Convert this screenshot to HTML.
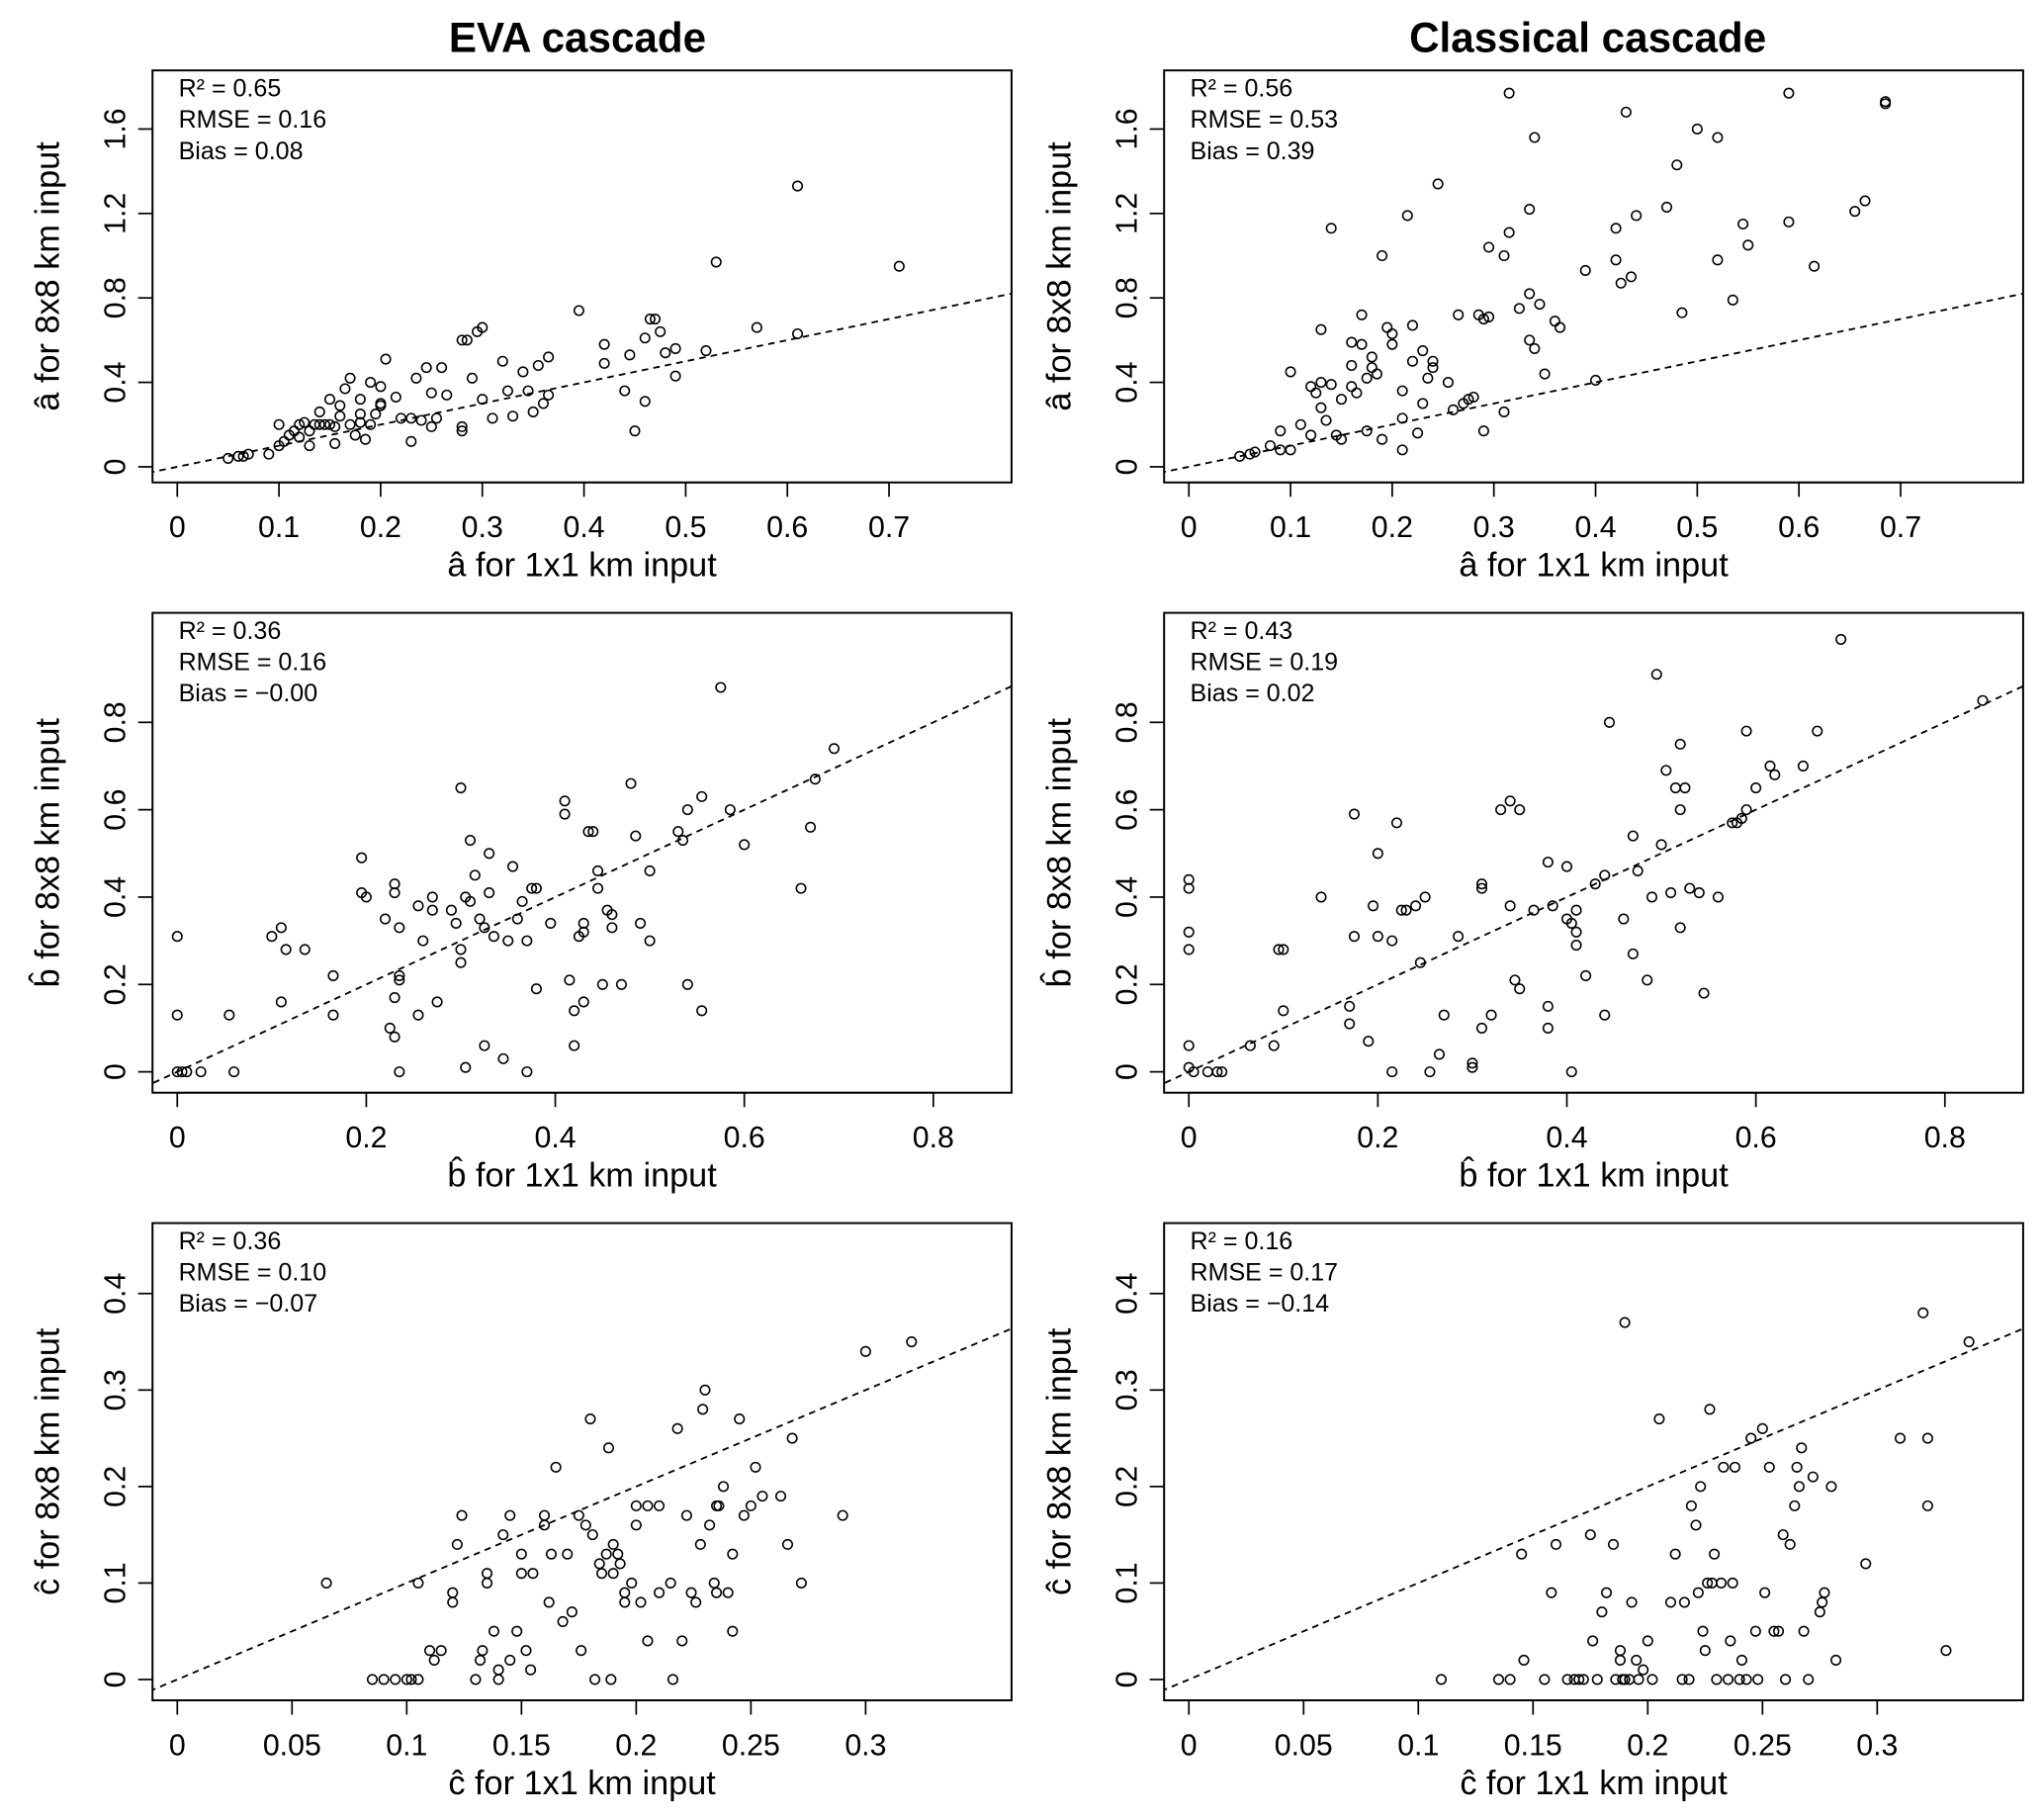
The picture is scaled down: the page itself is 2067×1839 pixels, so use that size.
<!DOCTYPE html>
<html><head><meta charset="utf-8"><style>
html,body{margin:0;padding:0;background:#fff}
svg{display:block}
text{font-family:"Liberation Sans",sans-serif;fill:#000}
</style></head><body>
<svg id="fig" width="2067" height="1839" viewBox="0 0 1568 1395" preserveAspectRatio="none" xmlns="http://www.w3.org/2000/svg">
<text x="443" y="40" text-anchor="middle" font-size="32" font-weight="bold">EVA cascade</text>
<text x="1218" y="40" text-anchor="middle" font-size="32" font-weight="bold">Classical cascade</text>
</svg>
<script>
// ---- data ----
const evaA_x=[0.05,0.06,0.065,0.07,0.09,0.1,0.1,0.105,0.11,0.115,0.12,0.12,0.125,0.13,0.13,0.135,0.14,0.14,0.145,0.15,0.15,0.155,0.155,0.16,0.16,0.165,0.17,0.17,0.175,0.18,0.18,0.18,0.185,0.19,0.19,0.195,0.2,0.2,0.2,0.205,0.215,0.22,0.23,0.23,0.235,0.24,0.245,0.25,0.25,0.255,0.26,0.265,0.28,0.28,0.28,0.285,0.29,0.295,0.3,0.3,0.31,0.32,0.325,0.33,0.34,0.345,0.35,0.355,0.36,0.365,0.365,0.395,0.42,0.42,0.44,0.445,0.45,0.46,0.46,0.465,0.47,0.475,0.48,0.49,0.49,0.52,0.53,0.57,0.61,0.61,0.71];
const evaA_y=[0.04,0.05,0.05,0.06,0.06,0.1,0.2,0.12,0.15,0.17,0.2,0.14,0.21,0.1,0.17,0.2,0.26,0.2,0.2,0.2,0.32,0.11,0.19,0.29,0.24,0.37,0.42,0.2,0.15,0.21,0.32,0.25,0.13,0.2,0.4,0.25,0.38,0.29,0.3,0.51,0.33,0.23,0.23,0.12,0.42,0.22,0.47,0.19,0.35,0.23,0.47,0.34,0.19,0.17,0.6,0.6,0.42,0.64,0.66,0.32,0.23,0.5,0.36,0.24,0.45,0.36,0.26,0.48,0.3,0.52,0.34,0.74,0.58,0.49,0.36,0.53,0.17,0.31,0.61,0.7,0.7,0.64,0.54,0.43,0.56,0.55,0.97,0.66,0.63,1.33,0.95];
const clA_x=[0.05,0.06,0.065,0.08,0.09,0.09,0.1,0.1,0.11,0.12,0.12,0.125,0.13,0.13,0.13,0.135,0.14,0.14,0.145,0.15,0.15,0.16,0.16,0.16,0.165,0.17,0.17,0.175,0.175,0.18,0.18,0.185,0.19,0.19,0.195,0.2,0.2,0.21,0.21,0.21,0.215,0.22,0.22,0.225,0.23,0.23,0.235,0.24,0.24,0.245,0.255,0.26,0.265,0.27,0.275,0.28,0.285,0.29,0.29,0.295,0.295,0.31,0.31,0.315,0.315,0.325,0.335,0.335,0.335,0.34,0.34,0.345,0.35,0.36,0.365,0.39,0.4,0.42,0.42,0.425,0.43,0.435,0.44,0.47,0.48,0.485,0.5,0.52,0.52,0.535,0.545,0.55,0.59,0.59,0.615,0.655,0.665,0.685,0.685];
const clA_y=[0.05,0.06,0.07,0.1,0.08,0.17,0.08,0.45,0.2,0.15,0.38,0.35,0.28,0.65,0.4,0.22,0.39,1.13,0.15,0.32,0.13,0.59,0.48,0.38,0.35,0.58,0.72,0.17,0.42,0.52,0.47,0.44,0.13,1.0,0.66,0.58,0.63,0.36,0.23,0.08,1.19,0.5,0.67,0.16,0.55,0.3,0.42,0.5,0.47,1.34,0.4,0.27,0.72,0.3,0.32,0.33,0.72,0.7,0.17,0.71,1.04,1.0,0.26,1.11,1.77,0.75,1.22,0.82,0.6,0.56,1.56,0.77,0.44,0.69,0.66,0.93,0.41,1.13,0.98,0.87,1.68,0.9,1.19,1.23,1.43,0.73,1.6,1.56,0.98,0.79,1.15,1.05,1.16,1.77,0.95,1.21,1.26,1.73,1.72];
const evaB_x=[0,0,0,0.005,0.01,0.025,0.055,0.06,0.1,0.11,0.11,0.115,0.135,0.165,0.165,0.195,0.195,0.2,0.22,0.225,0.23,0.23,0.23,0.23,0.235,0.235,0.235,0.235,0.255,0.255,0.26,0.27,0.27,0.275,0.29,0.295,0.3,0.3,0.3,0.305,0.305,0.31,0.31,0.315,0.32,0.325,0.325,0.33,0.33,0.335,0.345,0.35,0.355,0.36,0.365,0.37,0.37,0.375,0.38,0.38,0.395,0.41,0.41,0.415,0.42,0.42,0.425,0.43,0.43,0.43,0.435,0.44,0.445,0.445,0.45,0.455,0.46,0.46,0.47,0.48,0.485,0.49,0.5,0.5,0.53,0.535,0.54,0.54,0.555,0.555,0.575,0.585,0.6,0.66,0.67,0.675,0.695];
const evaB_y=[0.31,0.13,0,0,0,0,0.13,0,0.31,0.33,0.16,0.28,0.28,0.13,0.22,0.49,0.41,0.4,0.35,0.1,0.08,0.17,0.43,0.41,0.33,0.21,0.22,0,0.38,0.13,0.3,0.4,0.37,0.16,0.37,0.34,0.65,0.25,0.28,0.4,0.01,0.53,0.39,0.45,0.35,0.33,0.06,0.5,0.41,0.31,0.03,0.3,0.47,0.35,0.39,0.3,0,0.42,0.42,0.19,0.34,0.62,0.59,0.21,0.14,0.06,0.31,0.32,0.34,0.16,0.55,0.55,0.46,0.42,0.2,0.37,0.33,0.36,0.2,0.66,0.54,0.34,0.46,0.3,0.55,0.53,0.2,0.6,0.63,0.14,0.88,0.6,0.52,0.42,0.56,0.67,0.74];
const clB_x=[0,0,0,0,0,0,0.005,0.02,0.03,0.035,0.065,0.09,0.095,0.1,0.1,0.14,0.17,0.17,0.175,0.175,0.19,0.195,0.2,0.2,0.215,0.22,0.215,0.225,0.23,0.24,0.245,0.25,0.255,0.265,0.27,0.285,0.3,0.3,0.31,0.31,0.31,0.32,0.33,0.34,0.34,0.345,0.35,0.35,0.365,0.38,0.38,0.38,0.385,0.4,0.4,0.405,0.405,0.41,0.41,0.41,0.42,0.43,0.44,0.44,0.445,0.46,0.47,0.47,0.475,0.485,0.49,0.495,0.5,0.505,0.51,0.515,0.52,0.52,0.52,0.525,0.53,0.54,0.545,0.56,0.575,0.58,0.585,0.59,0.59,0.6,0.615,0.62,0.65,0.665,0.69,0.84];
const clB_y=[0.44,0.42,0.32,0.28,0.06,0.01,0,0,0,0,0.06,0.06,0.28,0.28,0.14,0.4,0.15,0.11,0.59,0.31,0.07,0.38,0.5,0.31,0.3,0.57,0,0.37,0.37,0.38,0.25,0.4,0,0.04,0.13,0.31,0.02,0.01,0.42,0.43,0.1,0.13,0.6,0.62,0.38,0.21,0.19,0.6,0.37,0.48,0.15,0.1,0.38,0.47,0.35,0.34,0,0.37,0.32,0.29,0.22,0.43,0.45,0.13,0.8,0.35,0.54,0.27,0.46,0.21,0.4,0.91,0.52,0.69,0.41,0.65,0.6,0.33,0.75,0.65,0.42,0.41,0.18,0.4,0.57,0.57,0.58,0.6,0.78,0.65,0.7,0.68,0.7,0.78,0.99,0.85];
const evaC_x=[0.065,0.085,0.09,0.095,0.1,0.102,0.105,0.105,0.11,0.112,0.115,0.12,0.12,0.122,0.124,0.13,0.132,0.133,0.135,0.135,0.138,0.14,0.14,0.142,0.145,0.145,0.148,0.15,0.15,0.152,0.154,0.155,0.16,0.16,0.162,0.163,0.165,0.168,0.17,0.172,0.175,0.176,0.178,0.18,0.181,0.182,0.184,0.185,0.187,0.188,0.189,0.19,0.19,0.192,0.193,0.195,0.195,0.198,0.2,0.2,0.202,0.205,0.205,0.21,0.21,0.215,0.216,0.218,0.22,0.222,0.224,0.226,0.228,0.229,0.23,0.232,0.234,0.235,0.235,0.236,0.238,0.24,0.242,0.242,0.245,0.247,0.25,0.252,0.255,0.263,0.266,0.268,0.272,0.29,0.3,0.32];
const evaC_y=[0.1,0,0,0,0,0,0,0.1,0.03,0.02,0.03,0.09,0.08,0.14,0.17,0,0.02,0.03,0.11,0.1,0.05,0.01,0,0.15,0.17,0.02,0.05,0.13,0.11,0.03,0.01,0.11,0.17,0.16,0.08,0.13,0.22,0.06,0.13,0.07,0.17,0.03,0.16,0.27,0.15,0,0.12,0.11,0.13,0.24,0,0.14,0.11,0.13,0.12,0.09,0.08,0.1,0.18,0.16,0.08,0.04,0.18,0.09,0.18,0.1,0,0.26,0.04,0.17,0.09,0.08,0.14,0.28,0.3,0.16,0.1,0.09,0.18,0.18,0.2,0.09,0.13,0.05,0.27,0.17,0.18,0.22,0.19,0.19,0.14,0.25,0.1,0.17,0.34,0.35];
const clC_x=[0.11,0.135,0.14,0.145,0.146,0.155,0.158,0.16,0.165,0.168,0.17,0.172,0.175,0.176,0.178,0.18,0.182,0.185,0.186,0.188,0.188,0.189,0.19,0.19,0.192,0.193,0.195,0.196,0.198,0.2,0.202,0.205,0.21,0.212,0.215,0.216,0.218,0.219,0.221,0.222,0.223,0.224,0.225,0.226,0.227,0.228,0.229,0.23,0.232,0.233,0.235,0.236,0.237,0.238,0.24,0.241,0.243,0.245,0.247,0.248,0.25,0.251,0.253,0.255,0.257,0.259,0.26,0.262,0.264,0.265,0.266,0.267,0.268,0.27,0.272,0.275,0.276,0.277,0.28,0.282,0.295,0.31,0.32,0.322,0.322,0.33,0.34];
const clC_y=[0,0,0,0.13,0.02,0,0.09,0.14,0,0,0,0,0.15,0.04,0,0.07,0.09,0.14,0,0.02,0.03,0,0,0.37,0,0.08,0.02,0,0.01,0.04,0,0.27,0.08,0.13,0,0.08,0,0.18,0.16,0.09,0.2,0.05,0.03,0.1,0.28,0.1,0.13,0,0.1,0.22,0,0.04,0.1,0.22,0,0.02,0,0.25,0.05,0,0.26,0.09,0.22,0.05,0.05,0.15,0,0.14,0.18,0.22,0.2,0.24,0.05,0,0.21,0.07,0.08,0.09,0.2,0.02,0.12,0.25,0.38,0.25,0.18,0.03,0.35];
const ticksA_x=[0,0.1,0.2,0.3,0.4,0.5,0.6,0.7];
const ticksA_y=[0,0.4,0.8,1.2,1.6];
const ticksB_x=[0,0.2,0.4,0.6,0.8];
const ticksB_y=[0,0.2,0.4,0.6,0.8];
const ticksC_x=[0,0.05,0.1,0.15,0.2,0.25,0.3];
const ticksC_y=[0,0.1,0.2,0.3,0.4];

const NS="http://www.w3.org/2000/svg";
const svg=document.getElementById('fig');
function mk(tag,attrs,parent){const e=document.createElementNS(NS,tag);for(const k in attrs)e.setAttribute(k,attrs[k]);(parent||svg).appendChild(e);return e;}

const rows=[{top:54,bot:370,xd:[-0.02436,0.8205],yd:[-0.0741,1.8777],tx:ticksA_x,ty:ticksA_y,v:'â',key:'a'},
 {top:470,bot:838,xd:[-0.0262,0.8828],yd:[-0.0478,1.0507],tx:ticksB_x,ty:ticksB_y,v:'b̂',key:'b'},
 {top:938,bot:1304,xd:[-0.0108,0.3636],yd:[-0.0216,0.473],tx:ticksC_x,ty:ticksC_y,v:'ĉ',key:'c'}];
const cols=[{l:117,r:776,key:'eva'},{l:893,r:1552,key:'classical'}];
const data={eva_a:[evaA_x,evaA_y],classical_a:[clA_x,clA_y],eva_b:[evaB_x,evaB_y],classical_b:[clB_x,clB_y],eva_c:[evaC_x,evaC_y],classical_c:[clC_x,clC_y]};
const stats={eva_a:['0.65','0.16','0.08'],classical_a:['0.56','0.53','0.39'],eva_b:['0.36','0.16','\u22120.00'],classical_b:['0.43','0.19','0.02'],eva_c:['0.36','0.10','\u22120.07'],classical_c:['0.16','0.17','\u22120.14']};
function fmt(v){return v===0?'0':String(+v.toFixed(2));}

rows.forEach((R,ri)=>{cols.forEach((C,ci)=>{
  const id=C.key+'_'+R.key;
  const g=mk('g',{});
  
  
  const sx=v=>C.l+(v-R.xd[0])/(R.xd[1]-R.xd[0])*(C.r-C.l);
  const sy=v=>R.bot-(v-R.yd[0])/(R.yd[1]-R.yd[0])*(R.bot-R.top);
  const cp=mk('clipPath',{id:'cp'+ri+ci},g);
  mk('rect',{x:C.l,y:R.top,width:C.r-C.l,height:R.bot-R.top},cp);
  // 1:1 line
  const lo=Math.min(R.xd[0],R.yd[0]),hi=Math.max(R.xd[1],R.yd[1]);
  const ln=mk('line',{x1:sx(lo),y1:sy(lo),x2:sx(hi),y2:sy(hi),stroke:'#000','stroke-width':1.4,'stroke-dasharray':'5,4','clip-path':'url(#cp'+ri+ci+')'},g);
  
  
  // points
  const [xs,ys]=data[id];
  xs.forEach((x,i)=>{
    const c=mk('circle',{cx:sx(x),cy:sy(ys[i]),r:3.6,fill:'none',stroke:'#000','stroke-width':1.2},g);
    
    
  });
  // box
  const bx=mk('rect',{x:C.l,y:R.top,width:C.r-C.l,height:R.bot-R.top,fill:'none',stroke:'#000','stroke-width':1.5},g);
  
  
  // x ticks
  mk('line',{x1:sx(R.tx[0]),y1:R.bot,x2:sx(R.tx[R.tx.length-1]),y2:R.bot,stroke:'#000','stroke-width':1.3},g);
  R.tx.forEach(t=>{
    mk('line',{x1:sx(t),y1:R.bot,x2:sx(t),y2:R.bot+11,stroke:'#000','stroke-width':1.3},g);
    const tl=mk('text',{x:sx(t),y:R.bot+42,'text-anchor':'middle','font-size':23},g);
    tl.textContent=fmt(t);
    
    
  });
  R.ty.forEach(t=>{
    mk('line',{x1:C.l,y1:sy(t),x2:C.l-11,y2:sy(t),stroke:'#000','stroke-width':1.3},g);
    const tl=mk('text',{x:C.l-21,y:sy(t),'text-anchor':'middle','font-size':23,transform:'rotate(-90 '+(C.l-21)+' '+sy(t)+')'},g);
    tl.textContent=fmt(t);
    
    
  });
  const xt=mk('text',{x:(C.l+C.r)/2,y:R.bot+72,'text-anchor':'middle','font-size':26},g);
  xt.textContent=R.v+' for 1x1 km input';
  
  
  const yc=(R.top+R.bot)/2, yx=C.l-72;
  const yt=mk('text',{x:yx,y:yc,'text-anchor':'middle','font-size':26,transform:'rotate(-90 '+yx+' '+yc+')'},g);
  yt.textContent=R.v+' for 8x8 km input';
  
  
  const s=stats[id];
  ['R\u00b2 = '+s[0],'RMSE = '+s[1],'Bias = '+s[2]].forEach((txt,k)=>{
    const st=mk('text',{x:C.l+20,y:R.top+20+k*24,'font-size':19},g);
    st.textContent=txt;
    
    
  });
});});
</script>
</body></html>
